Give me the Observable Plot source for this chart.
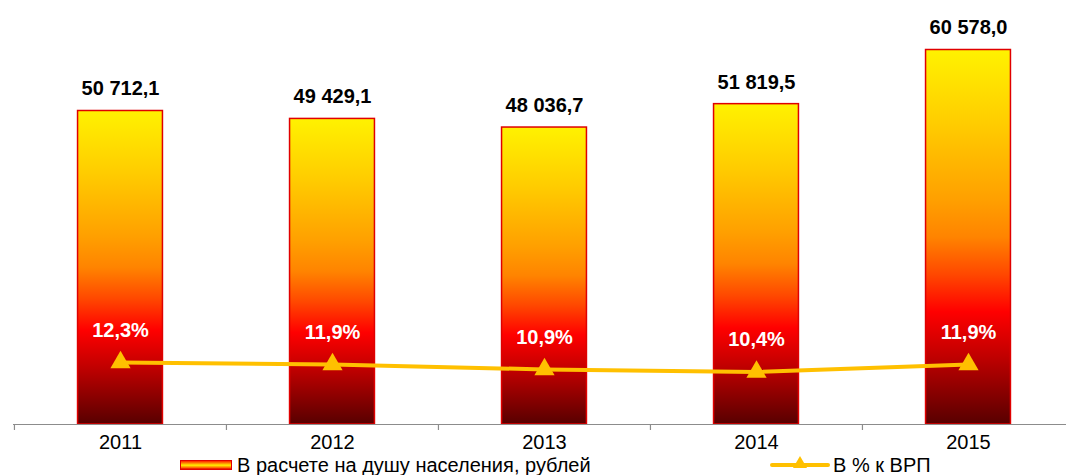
<!DOCTYPE html>
<html>
<head>
<meta charset="utf-8">
<script src="https://cdn.jsdelivr.net/npm/d3@7"></script>
<script src="https://cdn.jsdelivr.net/npm/@observablehq/plot@0.6"></script>
<style>
  html, body { margin: 0; padding: 0; background: #fff; }
  #wrap { width: 1066px; font-family: "Liberation Sans", Arial, sans-serif; }
  #chart svg { display: block; }
  #legend { position: relative; width: 1066px; height: 19px; font-size: 20px; line-height: 19px; color: #000; }
  .sw-bar { position: absolute; left: 180px; top: 4px; width: 50px; height: 8px; border: 1px solid #e00000;
            background: linear-gradient(to bottom, #ff2000, #ffd000 45%, #ffe800 55%, #ff6000 85%, #e00000); }
  .sw-line { position: absolute; left: 770px; top: 7px; width: 60px; height: 4px; background: #FFC000; border-radius: 2px; }
  .sw-tri { position: absolute; left: 793px; top: 0px; width: 0; height: 0;
            border-left: 7px solid transparent; border-right: 7px solid transparent; border-bottom: 12px solid #FFC000; }
  .lg-text { position: absolute; top: 0; white-space: nowrap; }
</style>
</head>
<body>
<div id="wrap">
  <div id="chart"></div>
  <div id="legend">
    <div class="sw-bar"></div>
    <div class="lg-text" style="left:237px">В расчете на душу населения, рублей</div>
    <div class="sw-line"></div>
    <div class="sw-tri"></div>
    <div class="lg-text" style="left:833px">В % к ВРП</div>
  </div>
</div>
<script>
// ---- data ----
const years = ["2011", "2012", "2013", "2014", "2015"];
const perCapita = [50712.1, 49429.1, 48036.7, 51819.5, 60578.0];   // рублей на душу населения
const pctGRP = [12.3, 11.9, 10.9, 10.4, 11.9];                       // % к ВРП

// ---- scales setup ----
const Y_MAX = 68100;     // primary axis top (hidden)
const PCT_MAX = 83.4;    // secondary axis top (hidden)
const toPrimary = p => p * Y_MAX / PCT_MAX;
const X_RANGE = [13.4, 1073.9];
const step = (X_RANGE[1] - X_RANGE[0]) / years.length;
const barWidth = 85;

const locale = d3.formatLocale({decimal: ",", thousands: "\u00a0", grouping: [3], currency: ["", ""]});
const fmtVal = locale.format(",.1f");
const fmtPct = v => locale.format(".1f")(v) + "%";

const data = years.map((year, i) => ({year, value: perCapita[i], pct: pctGRP[i]}));

const chart = Plot.plot({
  width: 1066,
  height: 456,
  marginTop: 3,
  marginBottom: 32,
  marginLeft: 13,
  marginRight: 0,
  style: {fontFamily: "'Liberation Sans', Arial, sans-serif", fontSize: "20px", background: "#fff", overflow: "visible"},
  x: {type: "band", domain: years, range: X_RANGE, padding: 0, label: null},
  y: {domain: [0, Y_MAX], axis: null, label: null},
  marks: [
    Plot.barY(data, {
      x: "year", y: "value",
      fill: "url(#barGrad)", stroke: "#E00000", strokeWidth: 1.5,
      insetLeft: (step - barWidth) / 2, insetRight: (step - barWidth) / 2
    }),
    Plot.ruleY([0], {stroke: "#8c8c8c", strokeWidth: 1.2}),
    Plot.ruleX(years, {x: d => d, y1: 0, y2: 0, dx: -step / 2, insetBottom: -6, stroke: "#8c8c8c", strokeWidth: 1.2}),
    Plot.axisX({tickSize: 0, tickPadding: 10, fontSize: 20, fill: "#000", label: null}),
    Plot.line(data, {x: "year", y: d => toPrimary(d.pct), stroke: "#FFC000", strokeWidth: 4}),
    Plot.dot(data, {x: "year", y: d => toPrimary(d.pct), symbol: "triangle", r: 7.5, fill: "#FFC000", stroke: "none"}),
    Plot.text(data, {x: "year", y: "value", text: d => fmtVal(d.value), dy: -22, fontWeight: "bold", fontSize: 20, fill: "#000"}),
    Plot.text(data, {x: "year", y: d => toPrimary(d.pct), text: d => fmtPct(d.pct), dy: -32, fontWeight: "bold", fontSize: 20, fill: "#fff"})
  ]
});

// per-bar vertical gradient (objectBoundingBox)
const defs = d3.select(chart).insert("defs", ":first-child");
const grad = defs.append("linearGradient").attr("id", "barGrad")
  .attr("x1", 0).attr("y1", 0).attr("x2", 0).attr("y2", 1);
[[0, "#FFF200"], [0.2, "#FFCC00"], [0.4, "#FFA000"], [0.5, "#FF8400"], [0.6, "#FF4800"],
 [0.7, "#FF0000"], [0.82, "#C00000"], [1, "#580000"]]
  .forEach(([o, c]) => grad.append("stop").attr("offset", o).attr("stop-color", c));

document.getElementById("chart").appendChild(chart);
</script>
</body>
</html>
